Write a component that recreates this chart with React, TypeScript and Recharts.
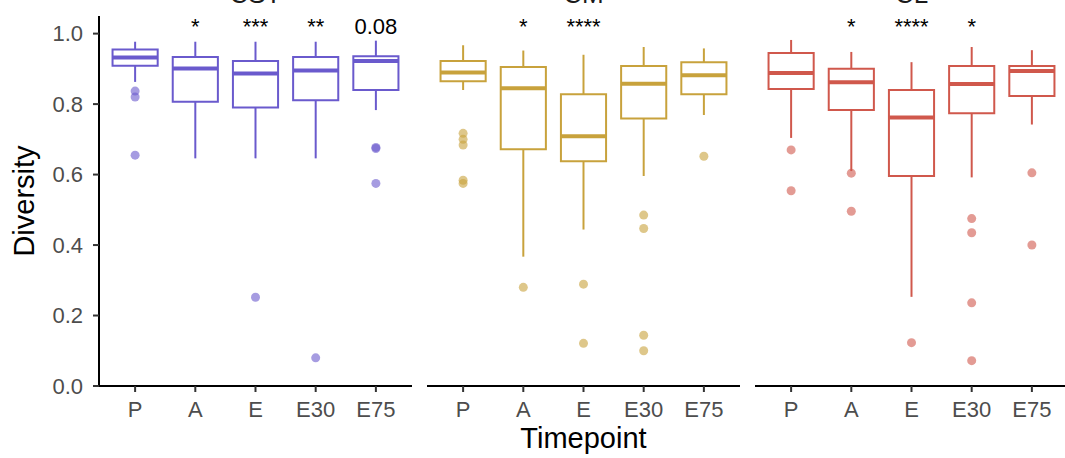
import React from 'react';
import { ComposedChart, XAxis, YAxis, Scatter, ReferenceArea, ReferenceLine } from 'recharts';

const timepoints = ['P', 'A', 'E', 'E30', 'E75'];
const panelTitles = ['CST', 'CM', 'CL'];
const yTicks = [0, 0.2, 0.4, 0.6, 0.8, 1.0];

// Panel 1 (blue)
const blueLow = [0.863, 0.646, 0.646, 0.646, 0.783];
const blueQ1 = [0.909, 0.807, 0.79, 0.811, 0.84];
const blueMedian = [0.932, 0.901, 0.887, 0.895, 0.922];
const blueQ3 = [0.955, 0.934, 0.922, 0.934, 0.936];
const blueHigh = [0.977, 0.977, 0.977, 0.977, 0.98];
const blueOutliers: [number, number][] = [[0, 0.837], [0, 0.82], [0, 0.655], [2, 0.252], [3, 0.08], [4, 0.677], [4, 0.674], [4, 0.575]];
const blueSig = ['', '*', '***', '**', '0.08'];

// Panel 2 (gold)
const goldLow = [0.84, 0.367, 0.444, 0.596, 0.769];
const goldQ1 = [0.865, 0.672, 0.638, 0.759, 0.828];
const goldMedian = [0.89, 0.845, 0.709, 0.858, 0.882];
const goldQ3 = [0.922, 0.905, 0.828, 0.908, 0.919];
const goldHigh = [0.967, 0.952, 0.94, 0.962, 0.958];
const goldOutliers: [number, number][] = [[0, 0.717], [0, 0.7], [0, 0.684], [0, 0.584], [0, 0.575], [1, 0.28], [2, 0.289], [2, 0.121], [3, 0.485], [3, 0.447], [3, 0.144], [3, 0.1], [4, 0.652]];
const goldSig = ['', '*', '****', '', ''];

// Panel 3 (red)
const redLow = [0.704, 0.61, 0.253, 0.592, 0.742];
const redQ1 = [0.843, 0.783, 0.596, 0.774, 0.823];
const redMedian = [0.888, 0.862, 0.762, 0.857, 0.894];
const redQ3 = [0.945, 0.9, 0.84, 0.908, 0.908];
const redHigh = [0.982, 0.948, 0.919, 0.962, 0.953];
const redOutliers: [number, number][] = [[0, 0.67], [0, 0.554], [1, 0.604], [1, 0.496], [2, 0.123], [3, 0.475], [3, 0.435], [3, 0.236], [3, 0.072], [4, 0.605], [4, 0.4]];
const redSig = ['', '*', '****', '*', ''];

const FONT = '"Liberation Sans", Arial, Helvetica, sans-serif';

type PanelProps = {
  color: string;
  low: number[];
  q1: number[];
  median: number[];
  q3: number[];
  high: number[];
  outliers: [number, number][];
  sig: string[];
  showY: boolean;
  left: number;
  width: number;
  marginLeft: number;
};

function Panel(p: PanelProps) {
  const outData = p.outliers.map(([i, v]) => ({ x: i + 1, y: v }));
  const sigData = p.sig
    .map((s, i) => ({ x: i + 1, y: 1.0, label: s }))
    .filter((d) => d.label !== '');
  const hw = 0.375;
  return (
    <div style={{ position: 'absolute', left: p.left, top: 0 }}>
      <ComposedChart
        width={p.width}
        height={458}
        margin={{ top: 16, right: 8, bottom: 42, left: p.marginLeft }}
        style={{ fontFamily: FONT }}
      >
        <XAxis
          type="number"
          dataKey="x"
          domain={[0.4, 5.6]}
          ticks={[1, 2, 3, 4, 5]}
          interval={0}
          allowDataOverflow
          tickFormatter={(v: number) => timepoints[v - 1]}
          axisLine={{ stroke: '#000', strokeWidth: 2 }}
          tickLine={{ stroke: '#333', strokeWidth: 2 }}
          tickSize={6}
          tickMargin={9}
          tick={{ fill: '#4D4D4D', fontSize: 22, fontFamily: FONT }}
          height={30}
        />
        <YAxis
          type="number"
          dataKey="y"
          domain={[0, 1.05]}
          ticks={yTicks}
          allowDataOverflow
          hide={!p.showY}
          width={p.showY ? 59 : 0}
          tickFormatter={(v: number) => v.toFixed(1)}
          axisLine={{ stroke: '#000', strokeWidth: 2 }}
          tickLine={{ stroke: '#333', strokeWidth: 2 }}
          tickSize={6}
          tickMargin={10}
          tick={{ fill: '#4D4D4D', fontSize: 22, fontFamily: FONT }}
        />
        {timepoints.map((t, i) => (
          <ReferenceLine
            key={'wh' + t}
            segment={[{ x: i + 1, y: p.q3[i] }, { x: i + 1, y: p.high[i] }]}
            stroke={p.color}
            strokeWidth={2}
          />
        ))}
        {timepoints.map((t, i) => (
          <ReferenceLine
            key={'wl' + t}
            segment={[{ x: i + 1, y: p.low[i] }, { x: i + 1, y: p.q1[i] }]}
            stroke={p.color}
            strokeWidth={2}
          />
        ))}
        {timepoints.map((t, i) => (
          <ReferenceArea
            key={'box' + t}
            x1={i + 1 - hw}
            x2={i + 1 + hw}
            y1={p.q1[i]}
            y2={p.q3[i]}
            fill="#fff"
            fillOpacity={1}
            stroke={p.color}
            strokeWidth={2}
          />
        ))}
        {timepoints.map((t, i) => (
          <ReferenceLine
            key={'med' + t}
            segment={[{ x: i + 1 - hw, y: p.median[i] }, { x: i + 1 + hw, y: p.median[i] }]}
            stroke={p.color}
            strokeWidth={4}
          />
        ))}
        <Scatter
          data={outData}
          isAnimationActive={false}
          shape={(s: any) => (
            <circle cx={s.cx} cy={s.cy} r={4.5} fill={p.color} fillOpacity={0.6} />
          )}
        />
        <Scatter
          data={sigData}
          isAnimationActive={false}
          shape={(s: any) => (
            <text
              x={s.cx}
              y={s.cy}
              textAnchor="middle"
              fontSize={22}
              fontFamily={FONT}
              fill="#000"
            >
              {s.payload.label}
            </text>
          )}
        />
      </ComposedChart>
    </div>
  );
}

export default function App() {
  return (
    <div
      style={{
        position: 'absolute',
        left: 0,
        top: 0,
        width: 1065,
        height: 458,
        overflow: 'hidden',
        background: '#fff',
        fontFamily: FONT,
      }}
    >
      <Panel color="#6A5ACD" low={blueLow} q1={blueQ1} median={blueMedian} q3={blueQ3} high={blueHigh}
        outliers={blueOutliers} sig={blueSig} showY left={0} width={420} marginLeft={40} />
      <Panel color="#C8A23C" low={goldLow} q1={goldQ1} median={goldMedian} q3={goldQ3} high={goldHigh}
        outliers={goldOutliers} sig={goldSig} showY={false} left={420} width={328} marginLeft={7} />
      <Panel color="#D0584C" low={redLow} q1={redQ1} median={redMedian} q3={redQ3} high={redHigh}
        outliers={redOutliers} sig={redSig} showY={false} left={748} width={328} marginLeft={7} />
      <svg
        width={1065}
        height={458}
        style={{ position: 'absolute', left: 0, top: 0, pointerEvents: 'none' }}
      >
        {panelTitles.map((t, i) => (
          <text key={t} x={[255.5, 583.5, 911.5][i]} y={3} textAnchor="middle" fontSize={26} fontFamily={FONT} fill="#1a1a1a">
            {t}
          </text>
        ))}
        <text x={583.5} y={448} textAnchor="middle" fontSize={29} fontFamily={FONT} fill="#000">
          Timepoint
        </text>
        <text x={34} y={201} transform="rotate(-90, 34, 201)" textAnchor="middle" fontSize={29} fontFamily={FONT} fill="#000">
          Diversity
        </text>
      </svg>
    </div>
  );
}
